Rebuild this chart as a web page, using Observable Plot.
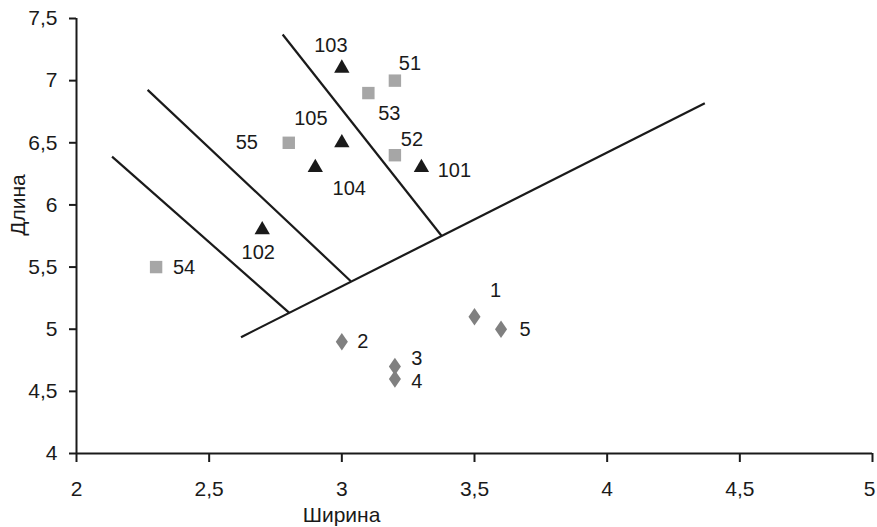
<!DOCTYPE html>
<html>
<head>
<meta charset="utf-8">
<script src="https://cdn.jsdelivr.net/npm/d3@7"></script>
<script src="https://cdn.jsdelivr.net/npm/@observablehq/plot@0.6"></script>
<style>
  html, body { margin: 0; padding: 0; background: #fff; }
  #chart svg { display: block; }
</style>
</head>
<body>
<div id="chart"></div>
<script>
// --- data ---
const setosaId = [1, 2, 3, 4, 5];
const setosaWidth = [3.5, 3.0, 3.2, 3.2, 3.6];
const setosaLength = [5.1, 4.9, 4.7, 4.6, 5.0];

const versicolorId = [51, 52, 53, 54, 55];
const versicolorWidth = [3.2, 3.2, 3.1, 2.3, 2.8];
const versicolorLength = [7.0, 6.4, 6.9, 5.5, 6.5];

const virginicaId = [101, 102, 103, 104, 105];
const virginicaWidth = [3.3, 2.7, 3.0, 2.9, 3.0];
const virginicaLength = [6.3, 5.8, 7.1, 6.3, 6.5];

// dividing lines: start and end points (width, length)
const lineStartWidth = [2.620, 2.777, 2.268, 2.134];
const lineStartLength = [4.936, 7.371, 6.926, 6.389];
const lineEndWidth = [4.368, 3.375, 3.034, 2.802];
const lineEndLength = [6.818, 5.754, 5.386, 5.132];

const xTicks = [2, 2.5, 3, 3.5, 4, 4.5, 5];
const yTicks = [4, 4.5, 5, 5.5, 6, 6.5, 7, 7.5];
const xTitle = "Ширина";
const yTitle = "Длина";

// --- build tables ---
const makeRows = (ids, w, l) => ids.map((id, i) => ({id, w: w[i], l: l[i]}));
const setosa = makeRows(setosaId, setosaWidth, setosaLength);
const versicolor = makeRows(versicolorId, versicolorWidth, versicolorLength);
const virginica = makeRows(virginicaId, virginicaWidth, virginicaLength);
const segments = lineStartWidth.map((_, i) => ({
  x1: lineStartWidth[i], y1: lineStartLength[i],
  x2: lineEndWidth[i], y2: lineEndLength[i]
}));

// label offsets in pixels (layout)
const labelOffset = {
  1: [21, -26], 2: [21, 0], 3: [22, -8], 4: [22, 3], 5: [24, 0],
  51: [15, -17], 52: [17, -16], 53: [21, 21], 54: [28, 1], 55: [-42, 0],
  101: [33, 3], 102: [-4, 23], 103: [-11, -23], 104: [34, 21], 105: [-31, -24]
};

// a diamond a bit wider than d3's default (style only)
const wideDiamond = {
  draw(context, size) {
    const h = Math.sqrt(size / 0.345) / 2;
    const w = h * 0.69;
    context.moveTo(0, -h);
    context.lineTo(w, 0);
    context.lineTo(0, h);
    context.lineTo(-w, 0);
    context.closePath();
  }
};

const fmt = d => String(d).replace(".", ",");
const font = "'Liberation Sans', Arial, sans-serif";
const ink = "#1a1a1a";

const labelMarks = [...setosa, ...versicolor, ...virginica].map(r =>
  Plot.text([r], {
    x: "w", y: "l", text: d => String(d.id),
    dx: labelOffset[r.id][0], dy: labelOffset[r.id][1],
    fontSize: 20, fill: ink
  })
);

const chart = Plot.plot({
  width: 877,
  height: 527,
  marginLeft: 76,
  marginRight: 5,
  marginTop: 18,
  marginBottom: 74,
  style: {fontFamily: font, background: "#fff"},
  x: {domain: [2, 5]},
  y: {domain: [4, 7.5]},
  marks: [
    Plot.axisX({ticks: xTicks, tickFormat: fmt, tickSize: 9, tickPadding: 19, fontSize: 21, stroke: ink, strokeWidth: 2, fill: ink, label: null}),
    Plot.axisY({ticks: yTicks, tickFormat: fmt, tickSize: 7, tickPadding: 12, fontSize: 21, stroke: ink, strokeWidth: 2, fill: ink, label: null}),
    Plot.ruleY([4], {stroke: ink, strokeWidth: 2}),
    Plot.ruleX([2], {stroke: ink, strokeWidth: 2}),
    Plot.link(segments, {x1: "x1", y1: "y1", x2: "x2", y2: "y2", stroke: ink, strokeWidth: 2.2}),
    Plot.dot(setosa, {x: "w", y: "l", symbol: wideDiamond, r: 5.8, fill: "#808080", stroke: "none"}),
    Plot.dot(versicolor, {x: "w", y: "l", symbol: "square", r: 7, fill: "#a6a6a6", stroke: "none"}),
    Plot.dot(virginica, {x: "w", y: "l", symbol: "triangle", r: 5.7, fill: ink, stroke: "none"}),
    ...labelMarks,
    Plot.text([xTitle], {frameAnchor: "bottom", lineAnchor: "middle", dx: -133, dy: 62, fontSize: 21, fill: ink}),
    Plot.text([yTitle], {frameAnchor: "left", textAnchor: "middle", lineAnchor: "middle", rotate: -90, dx: -58, dy: -31, fontSize: 21, fill: ink})
  ]
});
document.getElementById("chart").appendChild(chart);

// nudge the last x tick label so it is not cut by the page edge
const xLabels = chart.querySelectorAll('g[aria-label="x-axis tick label"] text');
if (xLabels.length) {
  const last = xLabels[xLabels.length - 1];
  last.setAttribute("dx", "-3");
}
</script>
</body>
</html>
